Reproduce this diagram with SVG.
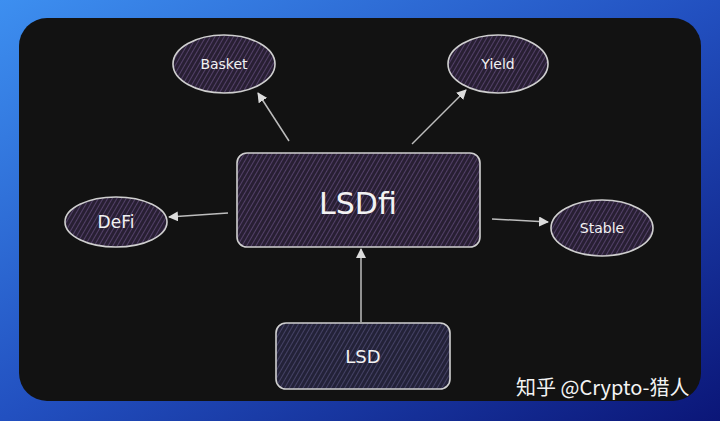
<svg xmlns="http://www.w3.org/2000/svg" width="720" height="421" viewBox="0 0 720 421">
<defs>
<linearGradient id="bg" x1="0" y1="0" x2="1" y2="1">
<stop offset="0" stop-color="#3d8ff0"/>
<stop offset="0.5" stop-color="#2250c0"/>
<stop offset="1" stop-color="#0b1678"/>
</linearGradient>
<pattern id="hp" width="4" height="4" patternUnits="userSpaceOnUse" patternTransform="rotate(30)">
<rect width="4" height="4" fill="#281f33"/>
<line x1="0" y1="0" x2="0" y2="4" stroke="#65507f" stroke-width="1.4"/>
</pattern>
<pattern id="hb" width="4" height="4" patternUnits="userSpaceOnUse" patternTransform="rotate(30)">
<rect width="4" height="4" fill="#232238"/>
<line x1="0" y1="0" x2="0" y2="4" stroke="#545078" stroke-width="1.4"/>
</pattern>
<marker id="ah" viewBox="0 0 10 10" refX="9" refY="5" markerWidth="10" markerHeight="10" markerUnits="userSpaceOnUse" orient="auto">
<path d="M0,0 L10,5 L0,10 Z" fill="#dcdcdc"/>
</marker>
</defs>
<style>
.node{stroke:#cfcfcf;stroke-width:1.6}
.lbl{fill:#f2f2f2;font-family:"DejaVu Sans","Liberation Sans",sans-serif;text-anchor:middle;dominant-baseline:central}
.conn{stroke:#bdbdbd;stroke-width:1.5;fill:none;marker-end:url(#ah)}
</style>
<rect width="720" height="421" fill="url(#bg)"/>
<rect x="19" y="18" width="682" height="383" rx="28" fill="#121212"/>
<g id="connectors">
<line class="conn" x1="289" y1="141" x2="258" y2="93"/>
<line class="conn" x1="412" y1="144" x2="466" y2="90"/>
<line class="conn" x1="228" y1="213" x2="169" y2="217"/>
<line class="conn" x1="492" y1="219" x2="548" y2="222"/>
<line class="conn" x1="361" y1="322" x2="361" y2="249"/>
</g>
<g id="basket">
<ellipse class="node" cx="224" cy="64" rx="51" ry="29" fill="url(#hp)"/>
<text class="lbl" x="224" y="64" font-size="14">Basket</text>
</g>
<g id="yield">
<ellipse class="node" cx="498" cy="64" rx="50" ry="29" fill="url(#hp)"/>
<text class="lbl" x="498" y="64" font-size="14">Yield</text>
</g>
<g id="lsdfi">
<rect class="node" x="237" y="153" width="243" height="94" rx="10" fill="url(#hp)"/>
<text class="lbl" x="358" y="203" font-size="30">LSDfi</text>
</g>
<g id="defi">
<ellipse class="node" cx="116" cy="222" rx="51" ry="25" fill="url(#hp)"/>
<text class="lbl" x="116" y="222" font-size="17">DeFi</text>
</g>
<g id="stable">
<ellipse class="node" cx="602" cy="228" rx="51" ry="28" fill="url(#hp)"/>
<text class="lbl" x="602" y="228" font-size="14">Stable</text>
</g>
<g id="lsd">
<rect class="node" x="276" y="323" width="174" height="66" rx="10" fill="url(#hb)"/>
<text class="lbl" x="363" y="356" font-size="18">LSD</text>
</g>
<text x="516" y="395" font-size="20" fill="#f4f4f4" font-family="'Noto Sans CJK SC','Noto Sans',sans-serif">知乎 @Crypto-猎人</text>
</svg>
